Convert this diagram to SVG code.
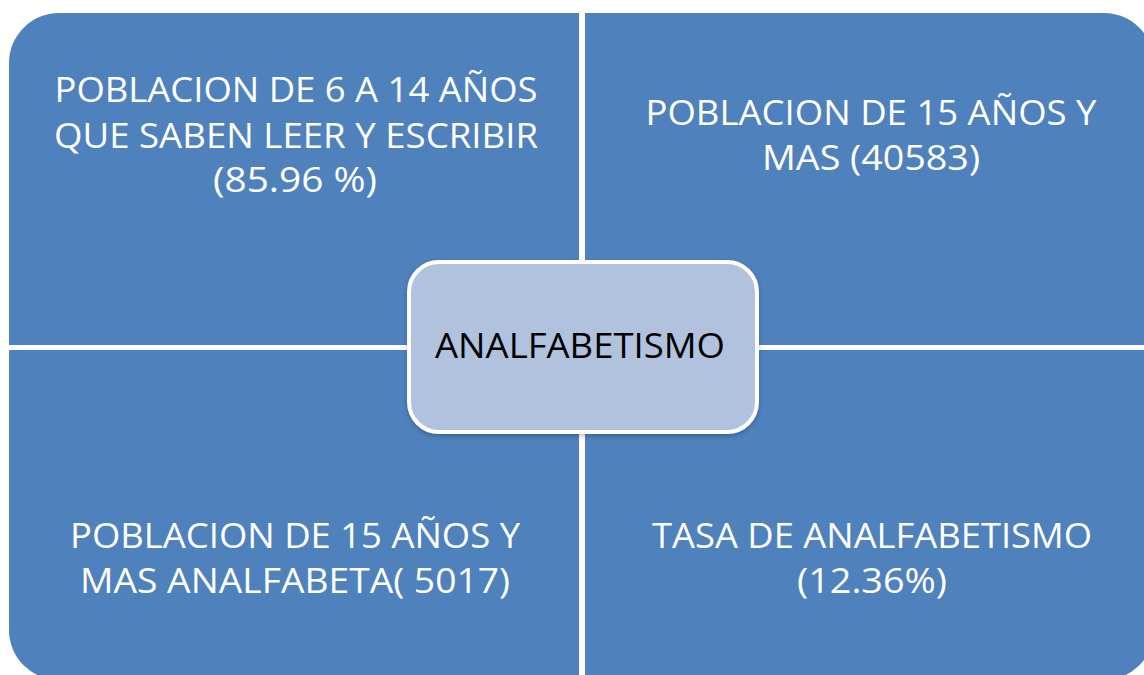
<svg xmlns="http://www.w3.org/2000/svg" width="1144" height="675" viewBox="0 0 1144 675">
  <defs>
    <style>
      .quad { fill: #4F81BD; }
      .qt { fill: #FFFFFF; font-family: "Open Sans", "Liberation Sans", sans-serif; font-size: 35px; text-anchor: middle; }
      .ct { fill: #000000; font-family: "Open Sans", "Liberation Sans", sans-serif; font-size: 35px; text-anchor: middle; }
      .center { fill: #B1C2DE; stroke: #FFFFFF; stroke-width: 4; }
    </style>
    <filter id="sh" x="-10%" y="-10%" width="120%" height="130%">
      <feDropShadow dx="0" dy="2" stdDeviation="2" flood-color="#000000" flood-opacity="0.25"/>
    </filter>
  </defs>
  <rect width="1144" height="675" fill="#FFFFFF"/>
  <g id="node-tl">
    <path class="quad" d="M9,63 A50,50 0 0 1 59,13 L579,13 L579,345 L9,345 Z"/>
    <text class="qt" x="296" y="102" textLength="483" lengthAdjust="spacingAndGlyphs">POBLACION DE 6 A 14 AÑOS</text>
    <text class="qt" x="296" y="148" textLength="484" lengthAdjust="spacingAndGlyphs">QUE SABEN LEER Y ESCRIBIR</text>
    <text class="qt" x="295" y="192" textLength="164" lengthAdjust="spacingAndGlyphs">(85.96 %)</text>
  </g>
  <g id="node-tr">
    <path class="quad" d="M585,13 L1104,13 A50,50 0 0 1 1154,63 L1154,345 L585,345 Z"/>
    <text class="qt" x="871" y="125" textLength="451" lengthAdjust="spacingAndGlyphs">POBLACION DE 15 AÑOS Y</text>
    <text class="qt" x="871" y="170" textLength="218" lengthAdjust="spacingAndGlyphs">MAS (40583)</text>
  </g>
  <g id="node-bl">
    <path class="quad" d="M9,350 L579,350 L579,680 L59,680 A50,50 0 0 1 9,630 Z"/>
    <text class="qt" x="295" y="548" textLength="450" lengthAdjust="spacingAndGlyphs">POBLACION DE 15 AÑOS Y</text>
    <text class="qt" x="295" y="593" textLength="430" lengthAdjust="spacingAndGlyphs">MAS ANALFABETA( 5017)</text>
  </g>
  <g id="node-br">
    <path class="quad" d="M585,350 L1154,350 L1154,630 A50,50 0 0 1 1104,680 L585,680 Z"/>
    <text class="qt" x="872" y="548" textLength="440" lengthAdjust="spacingAndGlyphs">TASA DE ANALFABETISMO</text>
    <text class="qt" x="872" y="593" textLength="150" lengthAdjust="spacingAndGlyphs">(12.36%)</text>
  </g>
  <g id="connectors"></g>
  <g id="node-center">
    <rect class="center" x="409" y="262" width="348" height="170" rx="30" ry="30" filter="url(#sh)"/>
    <text class="ct" x="580" y="358" textLength="290" lengthAdjust="spacingAndGlyphs">ANALFABETISMO</text>
  </g>
</svg>
